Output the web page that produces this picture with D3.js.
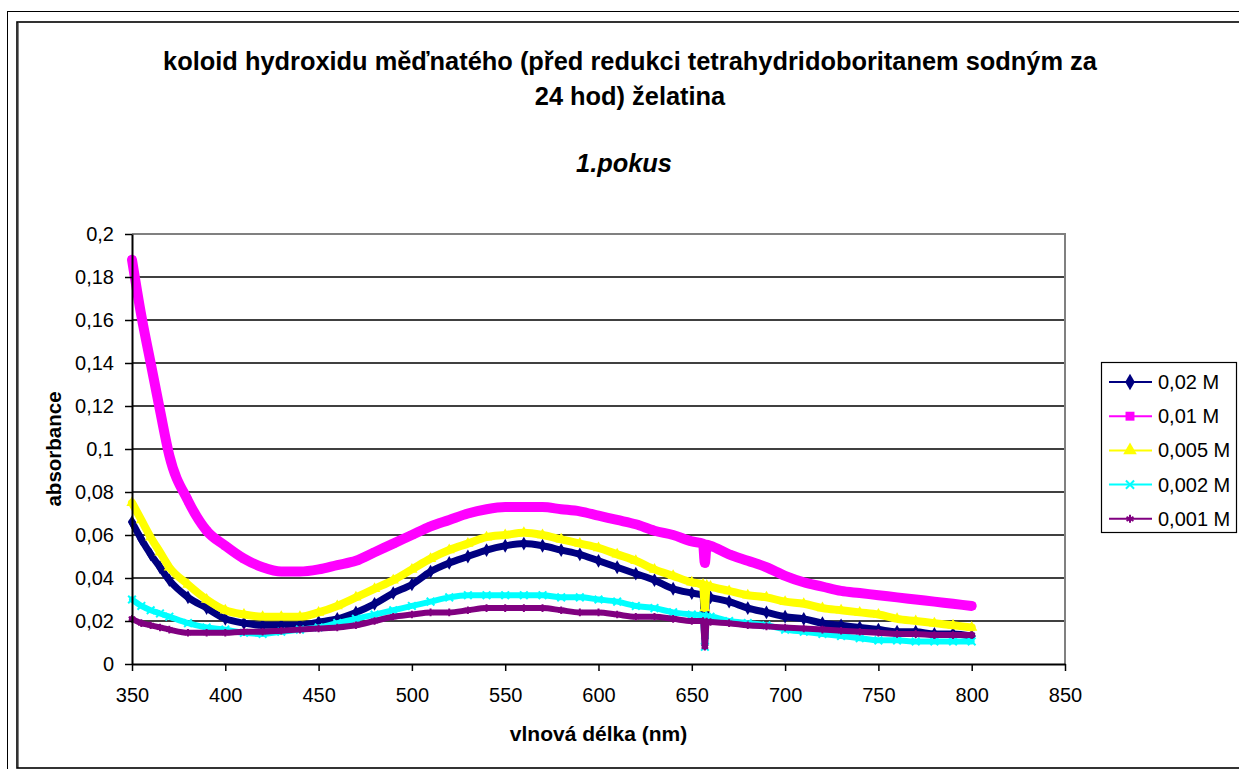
<!DOCTYPE html>
<html>
<head>
<meta charset="utf-8">
<script src="https://cdn.jsdelivr.net/npm/d3@7"></script>
<style>
  body { margin: 0; background: #fff; }
  svg { display: block; font-family: "Liberation Sans", Arial, sans-serif; }
</style>
</head>
<body>
<div id="chart"></div>
<script>
// données (absorbance en fonction de la longueur d'onde)
const wavelengths = [350, 355, 360, 365, 370, 380, 390, 400, 410, 420, 430, 440, 450, 460, 470, 480, 490, 500,
  510, 520, 530, 540, 550, 560, 570, 580, 590, 600, 610, 620, 630, 640, 650, 656, 657, 658, 660, 670, 680, 690,
  700, 710, 720, 730, 740, 750, 760, 770, 780, 790, 800];

const c002 = [0.066, 0.058, 0.051, 0.045, 0.039, 0.031, 0.026, 0.021, 0.019, 0.018, 0.018, 0.018, 0.0195, 0.021,
  0.024, 0.028, 0.033, 0.037, 0.043, 0.047, 0.050, 0.053, 0.055, 0.056, 0.055, 0.053, 0.051, 0.048, 0.045, 0.042,
  0.039, 0.035, 0.033, 0.032, 0.012, 0.0315, 0.031, 0.029, 0.026, 0.024, 0.022, 0.021, 0.019, 0.018, 0.017, 0.016,
  0.015, 0.015, 0.014, 0.014, 0.013];

const c001 = [0.188, 0.162, 0.140, 0.118, 0.097, 0.076, 0.062, 0.055, 0.049, 0.045, 0.043, 0.043, 0.044, 0.046,
  0.048, 0.052, 0.056, 0.060, 0.064, 0.067, 0.070, 0.072, 0.073, 0.073, 0.073, 0.072, 0.071, 0.069, 0.067, 0.065,
  0.062, 0.060, 0.057, 0.056, 0.047, 0.0555, 0.055, 0.051, 0.048, 0.045, 0.041, 0.038, 0.036, 0.034, 0.033, 0.032,
  0.031, 0.030, 0.029, 0.028, 0.027];

const c0005 = [0.075, 0.067, 0.059, 0.052, 0.045, 0.037, 0.030, 0.025, 0.023, 0.022, 0.022, 0.022, 0.024, 0.027,
  0.031, 0.035, 0.039, 0.044, 0.049, 0.053, 0.056, 0.059, 0.060, 0.061, 0.060, 0.058, 0.056, 0.054, 0.051, 0.048,
  0.044, 0.041, 0.038, 0.037, 0.026, 0.0365, 0.036, 0.034, 0.032, 0.031, 0.029, 0.028, 0.026, 0.025, 0.024, 0.023,
  0.021, 0.020, 0.019, 0.018, 0.017];

const c0002 = [0.030, 0.027, 0.025, 0.0235, 0.022, 0.019, 0.017, 0.016, 0.0145, 0.014, 0.015, 0.016, 0.017, 0.019,
  0.021, 0.023, 0.025, 0.027, 0.029, 0.031, 0.032, 0.032, 0.032, 0.032, 0.032, 0.031, 0.031, 0.030, 0.029, 0.027,
  0.026, 0.024, 0.023, 0.0225, 0.008, 0.022, 0.022, 0.020, 0.019, 0.018, 0.016, 0.015, 0.014, 0.013, 0.012, 0.011,
  0.011, 0.0105, 0.0105, 0.0105, 0.0105];

const c0001 = [0.021, 0.019, 0.018, 0.017, 0.016, 0.0145, 0.0145, 0.0145, 0.015, 0.015, 0.0155, 0.016, 0.0165, 0.017,
  0.018, 0.020, 0.022, 0.023, 0.024, 0.024, 0.025, 0.026, 0.026, 0.026, 0.026, 0.025, 0.024, 0.024, 0.023, 0.022,
  0.022, 0.021, 0.020, 0.020, 0.008, 0.0197, 0.0195, 0.019, 0.018, 0.0175, 0.017, 0.0165, 0.016, 0.0155, 0.015, 0.0145,
  0.014, 0.014, 0.0135, 0.0135, 0.0135];

const seriesNames = ["0,02 M", "0,01 M", "0,005 M", "0,002 M", "0,001 M"];
const seriesValues = [c002, c001, c0005, c0002, c0001];

const xTicks = [350, 400, 450, 500, 550, 600, 650, 700, 750, 800, 850];
const yTicks = [0, 0.02, 0.04, 0.06, 0.08, 0.1, 0.12, 0.14, 0.16, 0.18, 0.2];
const yTickLabels = ["0", "0,02", "0,04", "0,06", "0,08", "0,1", "0,12", "0,14", "0,16", "0,18", "0,2"];

// styles des séries
const colors = ["#000080", "#FF00FF", "#FFFF00", "#00FFFF", "#800080"];
const bandWidths = [7, 10, 8, 6, 6];
const symbolTypes = [d3.symbolDiamond, d3.symbolSquare, d3.symbolTriangle, d3.symbolX || d3.symbolCross, d3.symbolAsterisk || d3.symbolCross];
const symbolStroked = [false, false, false, true, true];

const W = 1239, H = 769;
const plot = { left: 132, right: 1065, top: 234, bottom: 664 };

const svg = d3.select("#chart").append("svg")
  .attr("width", W)
  .attr("height", H);

// cadres extérieurs
svg.append("rect").attr("x", 7.5).attr("y", 11.5).attr("width", 1400).attr("height", 900)
  .attr("fill", "none").attr("stroke", "#000").attr("stroke-width", 1);
svg.append("line").attr("x1", 18.5).attr("x2", 18.5).attr("y1", 23).attr("y2", 768)
  .attr("stroke", "#808080").attr("stroke-width", 1);
svg.append("rect").attr("x", 17).attr("y", 22).attr("width", 1400).attr("height", 746)
  .attr("fill", "none").attr("stroke", "#000").attr("stroke-width", 1.6);

const x = d3.scaleLinear().domain([350, 850]).range([plot.left, plot.right]);
const y = d3.scaleLinear().domain([0, 0.2]).range([plot.bottom, plot.top]);

// titres
const title = svg.append("g").attr("font-weight", "bold").attr("text-anchor", "middle").attr("fill", "#000");
title.append("text").attr("x", 630).attr("y", 70).attr("font-size", 25.4)
  .text("koloid hydroxidu měďnatého (před redukci tetrahydridoboritanem sodným za");
title.append("text").attr("x", 630).attr("y", 105).attr("font-size", 25.4)
  .text("24 hod) želatina");
title.append("text").attr("x", 624).attr("y", 172).attr("font-size", 25.4).attr("font-style", "italic")
  .text("1.pokus");

// grille horizontale
svg.append("g")
  .selectAll("line")
  .data(yTicks.slice(1, -1))
  .enter()
  .append("line")
  .attr("x1", plot.left).attr("x2", plot.right)
  .attr("y1", d => y(d)).attr("y2", d => y(d))
  .attr("stroke", "#000").attr("stroke-width", 1.3);

// bord gris du haut et de droite
svg.append("path")
  .attr("d", `M${plot.left},${plot.top}H${plot.right}V${plot.bottom}`)
  .attr("fill", "none").attr("stroke", "#808080").attr("stroke-width", 2);

// séries
const line = d3.line()
  .x(d => x(d[0]))
  .y(d => y(d[1]))
  .curve(d3.curveMonotoneX);

seriesValues.forEach((vals, i) => {
  const pts = wavelengths.map((w, j) => [w, vals[j]]);
  const g = svg.append("g");
  g.append("path")
    .datum(pts)
    .attr("d", line)
    .attr("fill", "none")
    .attr("stroke", colors[i])
    .attr("stroke-width", bandWidths[i])
    .attr("stroke-linejoin", "round")
    .attr("stroke-linecap", "round");
  const sym = d3.symbol().type(symbolTypes[i]).size(symbolStroked[i] ? 40 : 55);
  g.selectAll("path.mk")
    .data(pts)
    .enter()
    .append("path")
    .attr("class", "mk")
    .attr("transform", d => `translate(${x(d[0])},${y(d[1])})`)
    .attr("d", sym)
    .attr("fill", symbolStroked[i] ? "none" : colors[i])
    .attr("stroke", colors[i])
    .attr("stroke-width", symbolStroked[i] ? 2 : 0);
});

// axes
const xAxis = svg.append("g")
  .attr("transform", `translate(0,${plot.bottom})`)
  .call(d3.axisBottom(x).tickValues(xTicks).tickSize(7).tickSizeOuter(0).tickPadding(17));

const yAxis = svg.append("g")
  .attr("transform", `translate(${plot.left},0)`)
  .call(d3.axisLeft(y).tickValues(yTicks).tickSize(7).tickSizeOuter(0).tickPadding(11)
    .tickFormat((d, i) => yTickLabels[i]));

[xAxis, yAxis].forEach(a => {
  a.select(".domain").attr("stroke", "#000").attr("stroke-width", 2);
  a.selectAll(".tick line").attr("stroke", "#000").attr("stroke-width", 1.5);
  a.selectAll("text").attr("font-size", 20).attr("fill", "#000")
    .attr("font-family", "'Liberation Sans', Arial, sans-serif");
});

// titres des axes
svg.append("text")
  .attr("x", (plot.left + plot.right) / 2).attr("y", 741)
  .attr("text-anchor", "middle").attr("font-weight", "bold").attr("font-size", 21)
  .text("vlnová délka (nm)");

svg.append("text")
  .attr("transform", `translate(61,${(plot.top + plot.bottom) / 2}) rotate(-90)`)
  .attr("text-anchor", "middle").attr("font-weight", "bold").attr("font-size", 20.5)
  .text("absorbance");

// légende
const legend = svg.append("g");
legend.append("rect")
  .attr("x", 1101.5).attr("y", 362.5).attr("width", 135).attr("height", 170)
  .attr("fill", "#fff").attr("stroke", "#000").attr("stroke-width", 1.2);

seriesNames.forEach((name, i) => {
  const ly = 382 + i * 34.2;
  legend.append("line")
    .attr("x1", 1109).attr("x2", 1152).attr("y1", ly).attr("y2", ly)
    .attr("stroke", colors[i]).attr("stroke-width", 2);
  legend.append("path")
    .attr("transform", `translate(1130,${ly})`)
    .attr("d", d3.symbol().type(symbolTypes[i]).size(symbolStroked[i] ? 45 : 80))
    .attr("fill", symbolStroked[i] ? "none" : colors[i])
    .attr("stroke", colors[i])
    .attr("stroke-width", symbolStroked[i] ? 2 : 0);
  legend.append("text")
    .attr("x", 1158).attr("y", ly + 7)
    .attr("font-size", 20)
    .text(name);
});
</script>
</body>
</html>
